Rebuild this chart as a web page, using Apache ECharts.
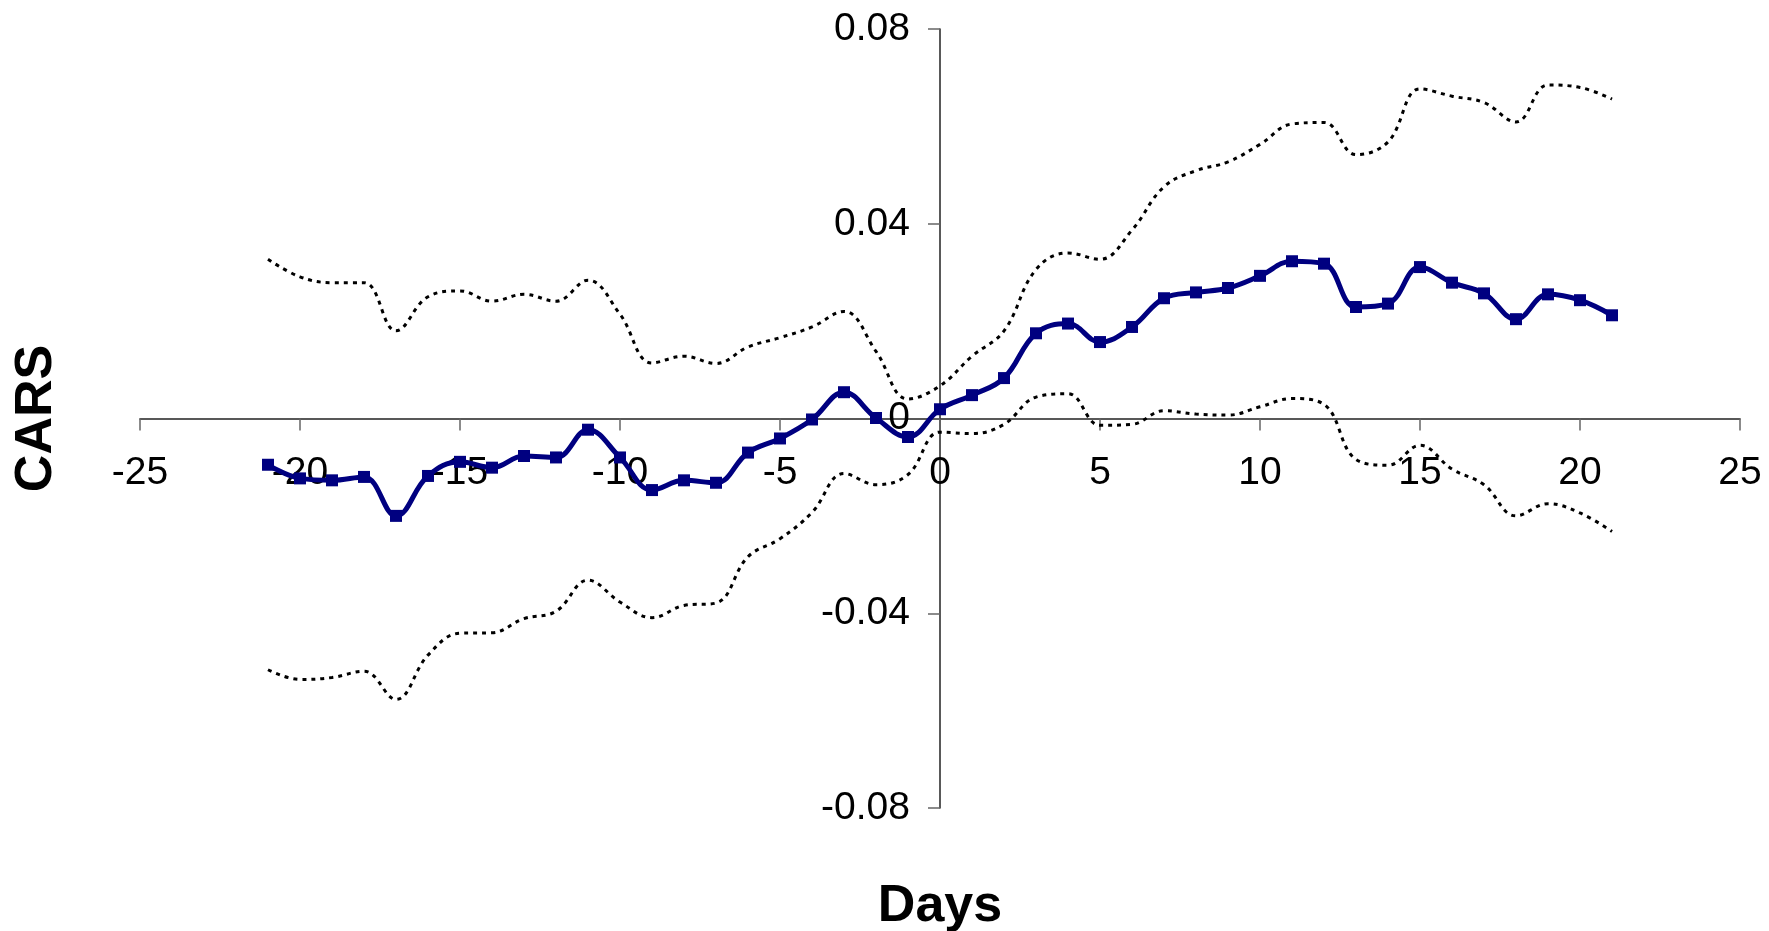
<!DOCTYPE html>
<html>
<head>
<meta charset="utf-8">
<script src="https://cdn.jsdelivr.net/npm/echarts@6/dist/echarts.min.js"></script>
<style>html,body{margin:0;padding:0;background:#fff;}#c{width:1769px;height:931px;}</style>
</head>
<body>
<div id="c"></div>
<script>
const days = [-21,-20,-19,-18,-17,-16,-15,-14,-13,-12,-11,-10,-9,-8,-7,-6,-5,-4,-3,-2,-1,0,1,2,3,4,5,6,7,8,9,10,11,12,13,14,15,16,17,18,19,20,21];
const cars = [-0.0095,-0.0123,-0.0127,-0.0120,-0.0200,-0.0118,-0.0089,-0.0101,-0.0077,-0.0080,-0.0023,-0.0080,-0.0147,-0.0127,-0.0132,-0.0070,-0.0041,-0.0002,0.0054,0.0001,-0.0038,0.0019,0.0048,0.0083,0.0175,0.0195,0.0157,0.0188,0.0247,0.0259,0.0268,0.0293,0.0323,0.0318,0.0229,0.0236,0.0311,0.0279,0.0257,0.0204,0.0255,0.0243,0.0212];
const upper = [0.0327,0.0291,0.0279,0.0279,0.0180,0.0250,0.0262,0.0241,0.0255,0.0241,0.0284,0.0214,0.0114,0.0128,0.0113,0.0147,0.0166,0.0188,0.0220,0.0138,0.0040,0.0067,0.0128,0.0180,0.0306,0.0340,0.0327,0.0387,0.0476,0.0509,0.0527,0.0563,0.0605,0.0608,0.0542,0.0568,0.0677,0.0662,0.0649,0.0609,0.0685,0.0680,0.0656];
const lower = [-0.0516,-0.0536,-0.0532,-0.0519,-0.0577,-0.0486,-0.0441,-0.0440,-0.0411,-0.0396,-0.0332,-0.0377,-0.0409,-0.0384,-0.0379,-0.0284,-0.0247,-0.0193,-0.0113,-0.0136,-0.0115,-0.0028,-0.0031,-0.0012,0.0044,0.0051,-0.0014,-0.0012,0.0016,0.0009,0.0007,0.0024,0.0041,0.0029,-0.0084,-0.0096,-0.0055,-0.0104,-0.0136,-0.0200,-0.0175,-0.0194,-0.0232];
const xName = 'Days';
const yName = 'CARS';

const pairs = arr => days.map((d, i) => [d, arr[i]]);
const font = '"Liberation Sans", Arial, sans-serif';
const chart = echarts.init(document.getElementById('c'), null, {renderer: 'canvas'});
const dashedStyle = {color: '#000', width: 3, type: [4, 5]};
// grid: left 140, width 1600 (x 0 at 940); top 29, height 779 (y 0 at 418.5)
chart.setOption({
  animation: false,
  backgroundColor: '#fff',
  grid: {left: 140, right: 29, top: 29, bottom: 123, containLabel: false, outerBoundsMode: 'none'},
  xAxis: {
    type: 'value', min: -25, max: 25, interval: 5,
    position: 'bottom', offset: -389.5,
    name: xName, nameLocation: 'middle', nameGap: 462,
    nameTextStyle: {fontFamily: font, fontSize: 52, fontWeight: 'bold', color: '#000'},
    axisLine: {onZero: false, lineStyle: {color: '#222', width: 1.5}},
    axisTick: {show: true, length: 12, lineStyle: {color: '#666', width: 1.5}},
    axisLabel: {fontFamily: font, fontSize: 39, color: '#000', margin: 35},
    splitLine: {show: false}
  },
  yAxis: {
    type: 'value', min: -0.08, max: 0.08, interval: 0.04,
    position: 'left', offset: -800,
    name: yName, nameLocation: 'middle', nameGap: 877, nameRotate: 90,
    nameTextStyle: {fontFamily: font, fontSize: 52, fontWeight: 'bold', color: '#000'},
    axisLine: {onZero: false, lineStyle: {color: '#222', width: 1.5}},
    axisTick: {show: true, length: 12, lineStyle: {color: '#666', width: 1.5}},
    axisLabel: {fontFamily: font, fontSize: 39, color: '#000', margin: 30,
      formatter: v => (Math.abs(v) < 1e-9 ? '0' : v.toFixed(2))},
    splitLine: {show: false}
  },
  series: [
    {type: 'line', name: 'Upper', data: pairs(upper), smooth: 0.4, showSymbol: false, symbol: 'none', lineStyle: dashedStyle, z: 2},
    {type: 'line', name: 'Lower', data: pairs(lower), smooth: 0.4, showSymbol: false, symbol: 'none', lineStyle: dashedStyle, z: 2},
    {type: 'line', name: 'CARS', data: pairs(cars), smooth: 0.4, symbol: 'rect', symbolSize: 12,
      itemStyle: {color: '#000080'}, lineStyle: {color: '#000080', width: 5}, z: 3}
  ]
});
</script>
</body>
</html>
